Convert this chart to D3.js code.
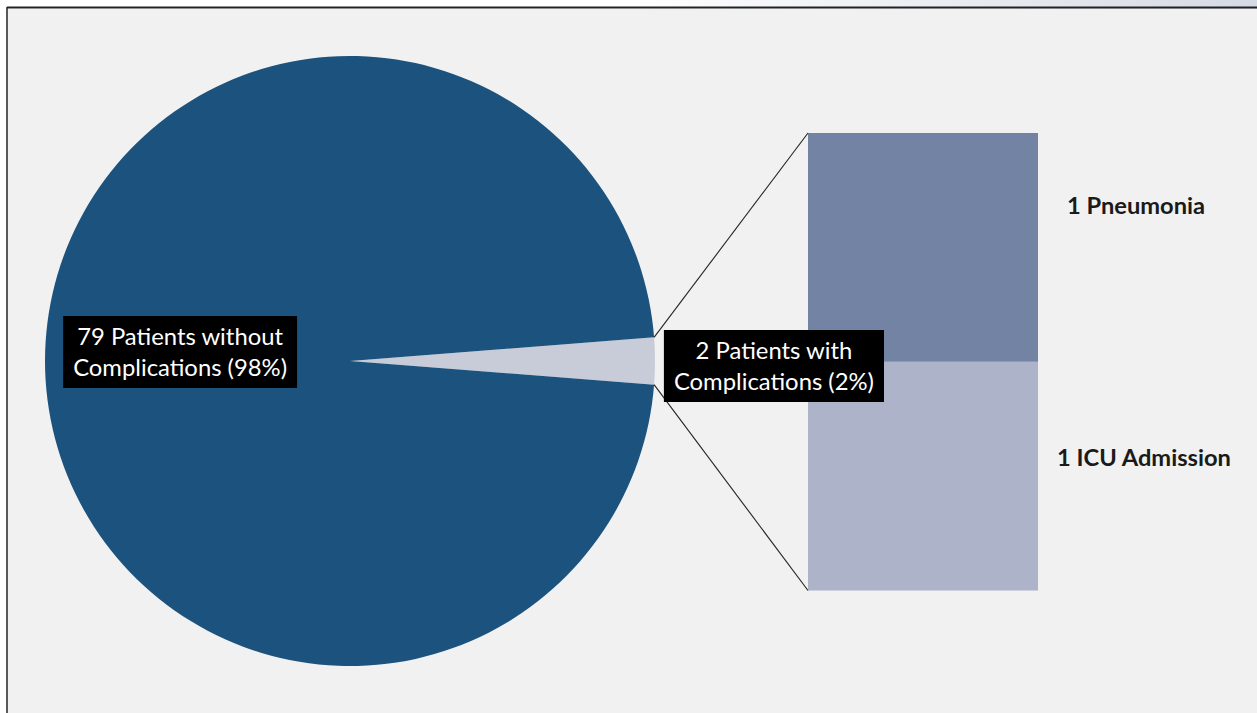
<!DOCTYPE html>
<html>
<head>
<meta charset="utf-8">
<script src="https://cdn.jsdelivr.net/npm/d3@7"></script>
<style>
  html, body { margin: 0; padding: 0; background: #ffffff; }
  svg { display: block; }
</style>
</head>
<body>
<svg id="chart" width="1257" height="713"></svg>
<script>
// Patients split by outcome (pie) and breakdown of the complication group (stacked bar)
const pieCategories = ["Patients with Complications", "Patients without Complications"];
const pieValues = [2, 79];
const pieLabels = [["2 Patients with", "Complications (2%)"], ["79 Patients without", "Complications (98%)"]];

const barCategories = ["ICU Admission", "Pneumonia"];
const barValues = [1, 1];
const barLabels = ["1 ICU Admission", "1 Pneumonia"];

const W = 1257, H = 713;
const svg = d3.select("#chart");
const defs = svg.append("defs");

// window-like strip above the plot frame
const grad = defs.append("linearGradient").attr("id", "topStrip").attr("x1", "0").attr("x2", "1");
grad.append("stop").attr("offset", "0").attr("stop-color", "#ffffff");
grad.append("stop").attr("offset", "0.5").attr("stop-color", "#ffffff");
grad.append("stop").attr("offset", "1").attr("stop-color", "#d6dae4");
svg.append("rect").attr("x", 0).attr("y", 0).attr("width", W).attr("height", 9).attr("fill", "url(#topStrip)");

// chart area and frame
svg.append("rect").attr("x", 8).attr("y", 9).attr("width", W - 8).attr("height", H - 9).attr("fill", "#f1f1f1");
svg.append("line").attr("x1", 7).attr("x2", W).attr("y1", 7.5).attr("y2", 7.5).attr("stroke", "#222").attr("stroke-width", 2);
svg.append("line").attr("x1", 7).attr("x2", 7).attr("y1", 7).attr("y2", H).attr("stroke", "#222").attr("stroke-width", 1.5);

// ---- pie ----
const cx = 350, cy = 361, R = 305;
const total = d3.sum(pieValues);
const halfSmall = Math.PI * pieValues[0] / total;
const pie = d3.pie().sort(null).value(d => d)
  .startAngle(Math.PI / 2 - halfSmall)
  .endAngle(Math.PI / 2 - halfSmall + 2 * Math.PI);
const arcs = pie(pieValues);
const arc = d3.arc().innerRadius(0).outerRadius(R);
const pieColors = d3.scaleOrdinal().domain(pieCategories).range(["#c7ccd8", "#1c527e"]);

const gPie = svg.append("g").attr("transform", `translate(${cx},${cy})`);
gPie.selectAll("path").data(arcs).join("path")
  .attr("d", arc)
  .attr("fill", (d, i) => pieColors(pieCategories[i]));

// ---- stacked bar ----
const bx0 = 808, bx1 = 1038;
const y = d3.scaleLinear().domain([0, d3.sum(barValues)]).range([590.5, 133]);
const stackStarts = d3.cumsum([0, ...barValues]).slice(0, barValues.length);
const barColors = d3.scaleOrdinal().domain(barCategories).range(["#adb3c8", "#7283a4"]);

svg.append("g").selectAll("rect").data(barValues).join("rect")
  .attr("x", bx0)
  .attr("width", bx1 - bx0)
  .attr("y", (d, i) => y(stackStarts[i] + d))
  .attr("height", (d, i) => y(stackStarts[i]) - y(stackStarts[i] + d))
  .attr("fill", (d, i) => barColors(barCategories[i]));

// connector lines from the small slice edges to the bar corners
const small = arcs[0];
const edgePt = a => [cx + R * Math.sin(a), cy - R * Math.cos(a)];
const pTop = edgePt(small.startAngle), pBot = edgePt(small.endAngle);
const conn = [
  [pTop, [bx0, y(d3.sum(barValues))]],
  [pBot, [bx0, y(0)]]
];
svg.append("g").selectAll("line").data(conn).join("line")
  .attr("x1", d => d[0][0]).attr("y1", d => d[0][1])
  .attr("x2", d => d[1][0]).attr("y2", d => d[1][1])
  .attr("stroke", "#222").attr("stroke-width", 1.1);

// ---- labels ----
const FONT = "Lato, 'Open Sans', sans-serif";

function fitSize(text, weight, targetWidth) {
  const t = svg.append("text").attr("font-family", FONT).attr("font-weight", weight)
    .attr("font-size", 100).text(text);
  const w = t.node().getComputedTextLength();
  t.remove();
  return 100 * targetWidth / w;
}

const pieFont = fitSize("Complications (98%)", 400, 214);
const lineGap = 31;

// label anchor positions: main slice label inside the pie, small one beside its edge
const labelPos = [
  [cx + 1.39 * R * Math.sin(small.startAngle + halfSmall) , cy + 5],
  [cx + 0.557 * R * Math.sin((arcs[1].startAngle + arcs[1].endAngle) / 2), cy - 9]
];

const gLab = svg.append("g");
pieLabels.forEach((lines, i) => {
  const [lx, ly] = labelPos[i];
  const g = gLab.append("g");
  const box = g.append("rect").attr("fill", "#000");
  const txt = g.append("text")
    .attr("font-family", FONT).attr("font-size", pieFont).attr("fill", "#fff")
    .attr("text-anchor", "middle");
  lines.forEach((s, k) => {
    txt.append("tspan").attr("x", lx).attr("y", ly - lineGap / 2 + 8 + k * lineGap).text(s);
  });
  const widest = d3.max(txt.selectAll("tspan").nodes(), n => n.getComputedTextLength());
  box.attr("x", lx - widest / 2 - 10).attr("width", widest + 20)
    .attr("y", ly - 36).attr("height", 72);
});

const barFont = fitSize("1 ICU Admission", 700, 174);
const barLabelPos = [[1144, 466], [1136, 214]];
svg.append("g").selectAll("text").data(barLabels).join("text")
  .attr("x", (d, i) => barLabelPos[i][0])
  .attr("y", (d, i) => barLabelPos[i][1])
  .attr("text-anchor", "middle")
  .attr("font-family", FONT).attr("font-weight", 700).attr("font-size", barFont)
  .attr("fill", "#1a1a1a")
  .text(d => d);
</script>
</body>
</html>
